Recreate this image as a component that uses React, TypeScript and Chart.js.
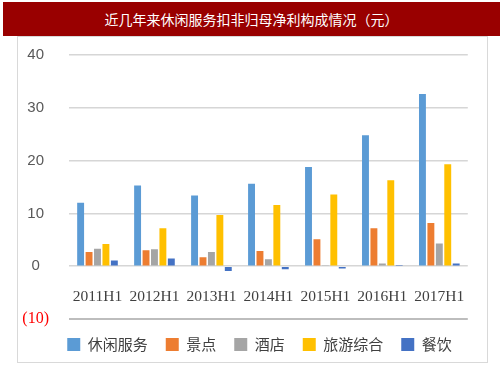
import React, { useEffect, useRef } from "react";
import { Chart, registerables } from "chart.js";

Chart.register(...registerables);

const categories = ["2011H1", "2012H1", "2013H1", "2014H1", "2015H1", "2016H1", "2017H1"];
const seriesNames = ["休闲服务", "景点", "酒店", "旅游综合", "餐饮"];
const leisure = [12.0, 15.3, 13.4, 15.6, 18.8, 24.8, 32.6];
const scenic = [2.7, 3.0, 1.7, 2.9, 5.1, 7.2, 8.2];
const hotel = [3.3, 3.2, 2.7, 1.3, 0.1, 0.5, 4.3];
const tourism = [4.2, 7.2, 9.7, 11.6, 13.6, 16.3, 19.3];
const catering = [1.1, 1.45, -0.9, -0.6, -0.45, 0.25, 0.5];
const seriesColors = ["#5B9BD5", "#ED7D31", "#A5A5A5", "#FFC000", "#4472C4"];
const yTicks = [-10, 0, 10, 20, 30, 40];
const title = "近几年来休闲服务扣非归母净利构成情况（元）";

const legendShift = {
  id: "legendShift",
  afterLayout(chart: any) {
    if (chart.legend) {
      chart.legend.left += 11;
      chart.legend.right += 11;
    }
  },
};

export default function App() {
  const ref = useRef<HTMLCanvasElement | null>(null);

  useEffect(() => {
    if (!ref.current) return;
    const values = [leisure, scenic, hotel, tourism, catering];
    const chart = new Chart(ref.current, {
      type: "bar",
      data: {
        labels: categories,
        datasets: seriesNames.map((name, i) => ({
          label: name,
          data: values[i],
          backgroundColor: seriesColors[i],
          borderWidth: 0,
          barPercentage: 0.82,
          categoryPercentage: 0.74,
        })),
      },
      plugins: [legendShift],
      options: {
        animation: false,
        responsive: false,
        maintainAspectRatio: false,
        layout: { padding: { left: 3, right: 10, top: 7, bottom: 0 } },
        plugins: {
          title: { display: false },
          tooltip: { enabled: false },
          legend: {
            position: "bottom",
            labels: {
              boxWidth: 13,
              boxHeight: 13,
              padding: 18,
              color: "#404040",
              font: { family: "'Noto Sans CJK SC', sans-serif", size: 15 },
            },
          },
        },
        scales: {
          x: {
            position: { y: 0 } as any,
            grid: { display: false, drawTicks: false },
            border: { display: false },
            ticks: {
              padding: 21,
              color: "#404040",
              font: { family: "'Liberation Serif', serif", size: 15.5 },
              maxRotation: 0,
              autoSkip: false,
            },
          },
          y: {
            min: -10,
            max: 40,
            afterBuildTicks: (scale: any) => {
              scale.ticks = yTicks.map((v) => ({ value: v }));
            },
            afterFit: (scale: any) => {
              scale.width = 48;
            },
            grid: {
              color: (ctx: any) => (ctx.tick && ctx.tick.value < 0 ? "#BDBDBD" : "#D6D6D6"),
              lineWidth: (ctx: any) => (ctx.tick && ctx.tick.value < 0 ? 2 : 1.5),
              drawTicks: true,
              tickLength: 11,
              tickColor: "rgba(0,0,0,0)",
            },
            border: { display: false },
            ticks: {
              padding: 9,
              crossAlign: "center",
              callback: (v: any) => (Number(v) < 0 ? `(${-Number(v)})` : String(v)),
              color: (ctx: any) => (ctx.tick && ctx.tick.value < 0 ? "#FF0000" : "#595959"),
              font: (ctx: any) =>
                ctx.tick && ctx.tick.value < 0
                  ? { family: "'Liberation Serif', serif", size: 16 }
                  : { family: "'Liberation Sans', sans-serif", size: 15 },
            },
          },
        },
      },
    });
    return () => chart.destroy();
  }, []);

  return (
    <div
      style={{
        position: "fixed",
        left: 0,
        top: 0,
        width: 503,
        height: 378,
        overflow: "hidden",
        background: "#ffffff",
      }}
    >
      <div
        style={{
          position: "absolute",
          left: 17,
          top: 36,
          width: 469,
          height: 325,
          border: "1px solid #D9D9D9",
        }}
      />
      <div
        style={{
          position: "absolute",
          left: 3,
          top: 2,
          width: 497,
          height: 34,
          background: "#990000",
          color: "#ffffff",
          fontFamily: "'Noto Sans CJK SC', sans-serif",
          fontSize: 14,
          lineHeight: "34px",
          textAlign: "center",
        }}
      >
        {title}
      </div>
      <div style={{ position: "absolute", left: 18, top: 37, width: 468, height: 325 }}>
        <canvas ref={ref} width={468} height={325} style={{ width: 468, height: 325 }} />
      </div>
    </div>
  );
}
